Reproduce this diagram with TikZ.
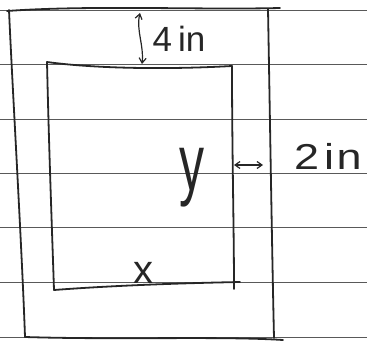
\documentclass[tikz,border=0pt]{standalone}
\usepackage{fontspec}
\setmainfont{Liberation Sans}
\usetikzlibrary{arrows.meta}
\begin{document}
\begin{tikzpicture}[x=1pt,y=-1pt,
  rule/.style={draw=black!65, line width=0.9pt},
  ink/.style={draw=black!85, line width=1.8pt, line cap=round, line join=round},
  dim/.style={draw=black!85, line width=1.2pt, {Straight Barb[length=5pt,width=7pt]}-{Straight Barb[length=5pt,width=7pt]}},
  lbl/.style={inner sep=0pt, text=black!85, anchor=base}]
\useasboundingbox (0,0) rectangle (367,350);
% ruled paper lines
\foreach \yy in {10,64,119,173,227,282,337}
  \draw[rule] (0,\yy) -- (367,\yy);
% outer rectangle
\coordinate (oTL) at (9,10);
\coordinate (oTR) at (268,9);
\coordinate (oBR) at (274,338);
\coordinate (oBL) at (25,337);
\draw[ink] (7,11) .. controls (90,5) and (200,10) .. (280,8);
\draw[ink] (oTL) .. controls (12,80) and (22,250) .. (oBL);
\draw[ink] (oTR) .. controls (270,120) and (272,250) .. (oBR);
\draw[ink] (oBL) .. controls (120,340) and (220,336) .. (283,340);
% inner rectangle
\coordinate (iTL) at (47,62);
\coordinate (iTR) at (232,66);
\coordinate (iBR) at (234,289);
\coordinate (iBL) at (54,290);
\draw[ink] (iTL) .. controls (90,68) and (160,70) .. (iTR);
\draw[ink] (iTL) .. controls (49,150) and (52,230) .. (iBL);
\draw[ink] (iTR) .. controls (232,150) and (234,230) .. (iBR);
\draw[ink] (iBL) .. controls (120,285) and (190,283) .. (240,282);
% dimension arrows
\coordinate (a1) at (140,13);
\coordinate (a2) at (142,64);
\draw[dim] (a1) .. controls (136,30) and (144,45) .. (a2);
\coordinate (b1) at (234,165);
\coordinate (b2) at (263,165);
\draw[dim] (b1) -- (b2);
% labels
\node[lbl, font=\fontsize{35}{40}\selectfont] (t4) at (179,52) {4\kern6pt in};
\node[lbl, font=\fontsize{36}{40}\selectfont] (t2) at (328,170) {\scalebox{1.25}[1]{2\kern4pt i\kern2pt n}};
\node[lbl, font=\fontsize{50}{54}\selectfont] (ty) at (192,190) {\scalebox{1}[1.6]{y}};
\node[lbl, font=\fontsize{40}{44}\selectfont] (tx) at (143,283) {x};
\end{tikzpicture}
\end{document}
